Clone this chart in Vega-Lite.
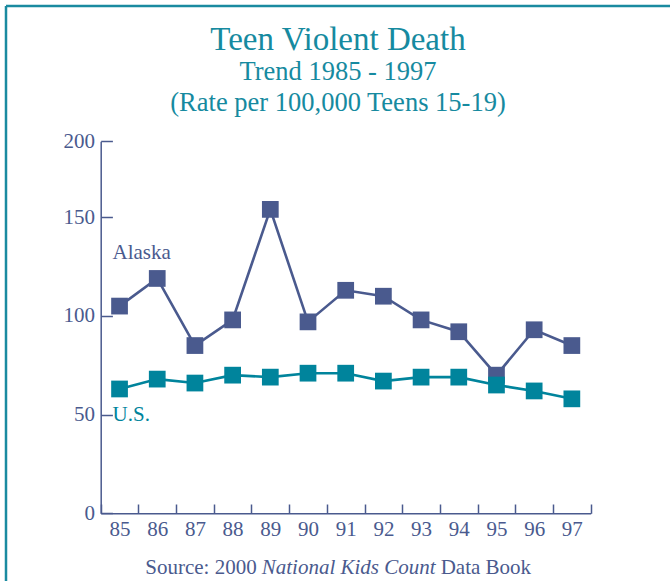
{
  "$schema": "https://vega.github.io/schema/vega-lite/v6.json",
  "width": 664,
  "height": 575,
  "autosize": {"type": "none"},
  "padding": {"left": 6, "top": 6, "right": 0, "bottom": 0},
  "background": "white",
  "config": {
    "font": "Liberation Serif",
    "view": {"stroke": "#1a8aa0", "strokeWidth": 2.5, "strokeDash": [664, 1239, 575, 0]},
    "text": {"font": "Liberation Serif", "fontSize": 21}
  },
  "title": {
    "text": "Teen Violent Death",
    "subtitle": ["Trend 1985 - 1997", "(Rate per 100,000 Teens 15-19)"],
    "orient": "top",
    "anchor": "middle",
    "frame": "group",
    "offset": -110,
    "font": "Liberation Serif",
    "fontSize": 33,
    "fontWeight": "normal",
    "color": "#168aa0",
    "subtitleFont": "Liberation Serif",
    "subtitleFontSize": 26.5,
    "subtitleColor": "#168aa0",
    "subtitleLineHeight": 31,
    "subtitlePadding": 2
  },
  "datasets": {
    "rates": [
      {"year": "85", "series": "Alaska", "rate": 105},
      {"year": "86", "series": "Alaska", "rate": 119},
      {"year": "87", "series": "Alaska", "rate": 85},
      {"year": "88", "series": "Alaska", "rate": 98},
      {"year": "89", "series": "Alaska", "rate": 154},
      {"year": "90", "series": "Alaska", "rate": 97},
      {"year": "91", "series": "Alaska", "rate": 113},
      {"year": "92", "series": "Alaska", "rate": 110},
      {"year": "93", "series": "Alaska", "rate": 98},
      {"year": "94", "series": "Alaska", "rate": 92},
      {"year": "95", "series": "Alaska", "rate": 70},
      {"year": "96", "series": "Alaska", "rate": 93},
      {"year": "97", "series": "Alaska", "rate": 85},
      {"year": "85", "series": "U.S.", "rate": 63},
      {"year": "86", "series": "U.S.", "rate": 68},
      {"year": "87", "series": "U.S.", "rate": 66},
      {"year": "88", "series": "U.S.", "rate": 70},
      {"year": "89", "series": "U.S.", "rate": 69},
      {"year": "90", "series": "U.S.", "rate": 71},
      {"year": "91", "series": "U.S.", "rate": 71},
      {"year": "92", "series": "U.S.", "rate": 67},
      {"year": "93", "series": "U.S.", "rate": 69},
      {"year": "94", "series": "U.S.", "rate": 69},
      {"year": "95", "series": "U.S.", "rate": 65},
      {"year": "96", "series": "U.S.", "rate": 62},
      {"year": "97", "series": "U.S.", "rate": 58}
    ],
    "series_labels": [
      {"series": "Alaska", "year": "85", "at": 132},
      {"series": "U.S.", "year": "85", "at": 50}
    ],
    "source_note": [
      {"year": "91", "at": -27.7}
    ]
  },
  "layer": [
    {
      "data": {"name": "rates"},
      "mark": {
        "type": "line",
        "strokeWidth": 2.6,
        "point": {"shape": "square", "size": 280, "filled": true, "opacity": 1}
      },
      "encoding": {
        "x": {
          "field": "year",
          "type": "ordinal",
          "scale": {
            "type": "band",
            "domain": ["85", "86", "87", "88", "89", "90", "91", "92", "93", "94", "95", "96", "97"],
            "range": [94.7, 584.7],
            "paddingInner": 0,
            "paddingOuter": 0
          },
          "axis": {
            "orient": "bottom",
            "offset": -67.7,
            "tickBand": "extent",
            "tickSize": -9.3,
            "labelPadding": 14,
            "labelAngle": 0,
            "grid": false,
            "title": null,
            "domainColor": "#4a5a8e",
            "domainWidth": 1.5,
            "tickColor": "#4a5a8e",
            "tickWidth": 1.5,
            "labelColor": "#4a5a8e",
            "labelFont": "Liberation Serif",
            "labelFontSize": 21
          }
        },
        "y": {
          "field": "rate",
          "type": "quantitative",
          "scale": {"domain": [0, 188.5], "range": [507.3, 135.3], "nice": false},
          "axis": {
            "orient": "left",
            "offset": -94.7,
            "values": [0, 50, 100, 150, 188.5],
            "labelExpr": "datum.value > 180 ? '200' : datum.label",
            "tickSize": -11.7,
            "labelPadding": 18,
            "grid": false,
            "title": null,
            "domainColor": "#4a5a8e",
            "domainWidth": 1.5,
            "tickColor": "#4a5a8e",
            "tickWidth": 1.5,
            "labelColor": "#4a5a8e",
            "labelFont": "Liberation Serif",
            "labelFontSize": 21
          }
        },
        "color": {
          "field": "series",
          "type": "nominal",
          "scale": {"domain": ["Alaska", "U.S."], "range": ["#4a5a8e", "#00849c"]},
          "legend": null
        }
      }
    },
    {
      "data": {"name": "series_labels"},
      "mark": {"type": "text", "align": "left", "baseline": "middle", "fontSize": 21, "dx": -7},
      "encoding": {
        "x": {"field": "year", "type": "ordinal"},
        "y": {"field": "at", "type": "quantitative"},
        "text": {"field": "series"},
        "color": {"field": "series", "type": "nominal", "legend": null}
      }
    },
    {
      "data": {"name": "source_note"},
      "mark": {"type": "text", "align": "right", "baseline": "middle", "fontSize": 21, "dx": -89, "color": "#4a5a8e"},
      "encoding": {
        "x": {"field": "year", "type": "ordinal"},
        "y": {"field": "at", "type": "quantitative"},
        "text": {"value": "Source: 2000"}
      }
    },
    {
      "data": {"name": "source_note"},
      "mark": {"type": "text", "align": "center", "baseline": "middle", "fontSize": 21, "fontStyle": "italic", "dx": 3, "color": "#4a5a8e"},
      "encoding": {
        "x": {"field": "year", "type": "ordinal"},
        "y": {"field": "at", "type": "quantitative"},
        "text": {"value": "National Kids Count"}
      }
    },
    {
      "data": {"name": "source_note"},
      "mark": {"type": "text", "align": "left", "baseline": "middle", "fontSize": 21, "dx": 95, "color": "#4a5a8e"},
      "encoding": {
        "x": {"field": "year", "type": "ordinal"},
        "y": {"field": "at", "type": "quantitative"},
        "text": {"value": "Data Book"}
      }
    }
  ]
}
